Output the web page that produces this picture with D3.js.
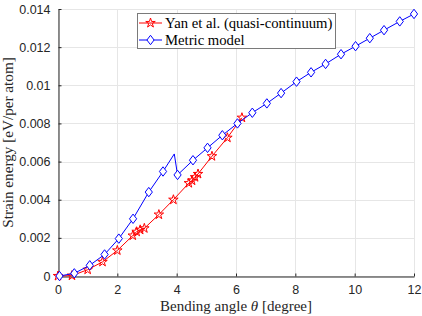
<!DOCTYPE html>
<html>
<head>
<meta charset="utf-8">
<script src="https://cdn.jsdelivr.net/npm/d3@7"></script>
<style>
  html, body { margin: 0; padding: 0; background: #fff; }
  svg { display: block; }
</style>
</head>
<body>
<svg id="chart" width="422" height="316"></svg>
<script>
// ---- data ----
const yanX = [0, 0.47, 1.0, 1.5, 2.0, 2.52, 2.65, 2.77, 2.91, 3.40, 3.89, 4.41, 4.52, 4.62, 4.72, 5.19, 5.71, 6.2];
const yanY = [0, 0.00002, 0.00033, 0.00074, 0.00134, 0.00212, 0.00232, 0.00242, 0.0025, 0.00322, 0.0040, 0.00487, 0.005, 0.00518, 0.00535, 0.00628, 0.00725, 0.0083];

const metricX = [0.05, 0.55, 1.07, 1.57, 2.05, 2.53, 3.06, 3.54, 3.92, 4.03, 4.55, 5.04, 5.54, 6.05, 6.55, 7.04, 7.52, 8.04, 8.53, 9.02, 9.54, 10.03, 10.51, 10.99, 11.52, 12.0];
const metricY = [0, 0.00014, 0.00056, 0.00113, 0.00196, 0.0030, 0.0044, 0.00548, 0.0064, 0.0053, 0.00607, 0.00672, 0.00738, 0.0080, 0.00856, 0.00905, 0.00959, 0.01019, 0.01068, 0.01112, 0.01163, 0.01205, 0.01247, 0.01289, 0.01335, 0.01374];
// which metric points carry a marker (the peak at 3.92 is a line vertex only)
const metricMarker = [1,1,1,1,1,1,1,1,0,1,1,1,1,1,1,1,1,1,1,1,1,1,1,1,1,1];

const xTicks = [0, 2, 4, 6, 8, 10, 12];
const yTicks = [0, 0.002, 0.004, 0.006, 0.008, 0.01, 0.012, 0.014];
const yTickLabels = ["0", "0.002", "0.004", "0.006", "0.008", "0.01", "0.012", "0.014"];
const seriesNames = ["Yan et al. (quasi-continuum)", "Metric model"];

// ---- layout ----
const L = 58, R = 414, T = 9, B = 276;
const svg = d3.select("#chart");
const x = d3.scaleLinear().domain([0, 12]).range([L, R]);
const y = d3.scaleLinear().domain([0, 0.014]).range([B, T]);

const axisColor = "#262626";
const gridColor = "#e6e6e6";
const red = "#ff0000", blue = "#0000ff";

// grid
const g = svg.append("g");
g.selectAll("line.vx").data(xTicks).join("line")
  .attr("x1", d => Math.round(x(d)) + 0.5).attr("x2", d => Math.round(x(d)) + 0.5)
  .attr("y1", T).attr("y2", B)
  .attr("stroke", gridColor).attr("stroke-width", 1);
g.selectAll("line.hy").data(yTicks).join("line")
  .attr("y1", d => Math.round(y(d)) + 0.5).attr("y2", d => Math.round(y(d)) + 0.5)
  .attr("x1", L).attr("x2", R)
  .attr("stroke", gridColor).attr("stroke-width", 1);

// axes
const xAxis = d3.axisBottom(x).tickValues(xTicks).tickSizeInner(-3).tickSizeOuter(0).tickPadding(8.5)
  .tickFormat(d3.format("d"));
const xa = svg.append("g").attr("transform", `translate(0,${B + 0.5})`).call(xAxis);
const yAxis = d3.axisLeft(y).tickValues(yTicks).tickSizeInner(-3).tickSizeOuter(0).tickPadding(8)
  .tickFormat((d, i) => yTickLabels[i]);
const ya = svg.append("g").attr("transform", `translate(${L + 0.5},0)`).call(yAxis);
[xa, ya].forEach(a => {
  a.select(".domain").attr("stroke", axisColor).attr("stroke-width", 1);
  a.selectAll(".tick line").attr("stroke", axisColor).attr("stroke-width", 1);
  a.selectAll(".tick text").attr("fill", axisColor)
    .style("font-family", "'Liberation Sans', Arial, sans-serif").style("font-size", "12.5px");
});

// line generator
const line = d3.line().x(d => x(d[0])).y(d => y(d[1]));
const yanPts = yanX.map((v, i) => [v, yanY[i]]);
const metricPts = metricX.map((v, i) => [v, metricY[i]]);

// star & diamond shapes
const starPath = d3.symbol(d3.symbolStar, 28)();
const diamondPath = "M0,-4.7L3.6,0L0,4.7L-3.6,0Z";

// Yan series
svg.append("path").attr("d", line(yanPts)).attr("fill", "none").attr("stroke", red).attr("stroke-width", 1);
svg.selectAll("path.star").data(yanPts).join("path")
  .attr("class", "star")
  .attr("d", starPath)
  .attr("transform", d => `translate(${x(d[0])},${y(d[1])})`)
  .attr("fill", "none").attr("stroke", red).attr("stroke-width", 1);

// Metric series
svg.append("path").attr("d", line(metricPts)).attr("fill", "none").attr("stroke", blue).attr("stroke-width", 1);
svg.selectAll("path.dia").data(metricPts.filter((d, i) => metricMarker[i])).join("path")
  .attr("class", "dia")
  .attr("d", diamondPath)
  .attr("transform", d => `translate(${x(d[0])},${y(d[1])})`)
  .attr("fill", "#fff").attr("stroke", blue).attr("stroke-width", 1);

// axis labels
const serif = "'Liberation Serif', 'Times New Roman', serif";
const xl = svg.append("text").attr("x", (L + R) / 2).attr("y", 311)
  .attr("text-anchor", "middle").attr("fill", axisColor)
  .style("font-family", serif).style("font-size", "15px");
xl.append("tspan").text("Bending angle ");
xl.append("tspan").style("font-style", "italic").text("θ");
xl.append("tspan").text(" [degree]");

svg.append("text").attr("transform", `translate(13,${(T + B) / 2}) rotate(-90)`)
  .attr("text-anchor", "middle").attr("fill", axisColor)
  .style("font-family", serif).style("font-size", "15.2px")
  .text("Strain energy [eV/per atom]");

// legend
const lg = svg.append("g");
lg.append("rect").attr("x", 137.5).attr("y", 13.5).attr("width", 198).attr("height", 35)
  .attr("fill", "#fff").attr("stroke", "#7a7a7a").attr("stroke-width", 1);
const rows = [
  { name: seriesNames[0], color: red, shape: starPath, fill: "none", cy: 23 },
  { name: seriesNames[1], color: blue, shape: diamondPath, fill: "#fff", cy: 40 }
];
rows.forEach(r => {
  lg.append("line").attr("x1", 139).attr("x2", 162).attr("y1", r.cy).attr("y2", r.cy)
    .attr("stroke", r.color).attr("stroke-width", 1);
  lg.append("path").attr("d", r.shape).attr("transform", `translate(150.5,${r.cy})`)
    .attr("fill", r.fill).attr("stroke", r.color).attr("stroke-width", 1);
  lg.append("text").attr("x", 165).attr("y", r.cy + 4.5).attr("fill", "#000")
    .style("font-family", serif).style("font-size", "14.7px").text(r.name);
});
</script>
</body>
</html>
